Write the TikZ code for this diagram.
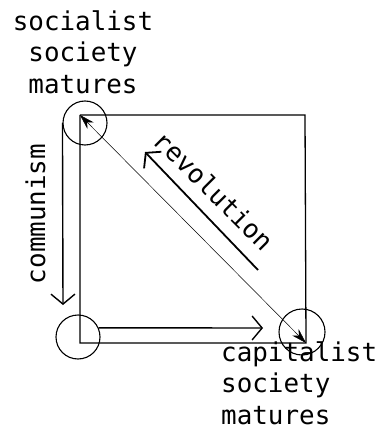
\documentclass[tikz,border=0pt]{standalone}
\usepackage{fontspec}
\setmonofont{DejaVu Sans Mono}
\usetikzlibrary{arrows.meta}
\begin{document}
\begin{tikzpicture}[x=1bp,y=-1bp, >={Straight Barb[length=10bp,width=24bp]},
 stage/.style={draw,circle,line width=1.1bp,minimum size=44bp,inner sep=0pt},
 tag/.style={font=\ttfamily\fontsize{26}{32}\selectfont,inner sep=0pt}]
 \useasboundingbox (0,0) rectangle (382,434);
 % corners of the square
 \coordinate (tl) at (80,115);
 \coordinate (tr) at (305,115);
 \coordinate (bl) at (80,343);
 \coordinate (br) at (306,343);
 \node[stage] (soc) at (85,123) {};
 \node[stage] (low) at (78,337) {};
 \node[stage,minimum size=46bp] (cap) at (302,332) {};
 \draw[line width=1.3bp] (tl) -- (tr) -- (br) -- (bl) -- (tl);
 \draw[line width=0.5bp,{Stealth[length=15bp,width=9bp]}-{Stealth[length=15bp,width=9bp]}] (tl) -- (br);
 % communism arrow
 \coordinate (comend) at (63,305);
 \draw[->,line width=1.4bp] (soc.west) -- (comend);
 % bottom arrow
 \coordinate (lowend) at (263,328);
 \draw[->,line width=1.4bp] (low.24) -- (lowend);
 % revolution arrow
 \coordinate (revtail) at (258,270);
 \coordinate (revhead) at (145,152);
 \draw[->,line width=1.8bp] (revtail) -- (revhead);
 \node[tag,align=center,anchor=north] (soctxt) at (83,10) {socialist\\society\\matures};
 \node[tag,align=left,anchor=north west] (captxt) at (221,341) {capitalist\\society\\matures};
 \node[tag,rotate=90,anchor=base] (comtxt) at (45,214) {communism};
 \node[tag,rotate=-45] (revtxt) at (214,191) {revolution};
\end{tikzpicture}
\end{document}
